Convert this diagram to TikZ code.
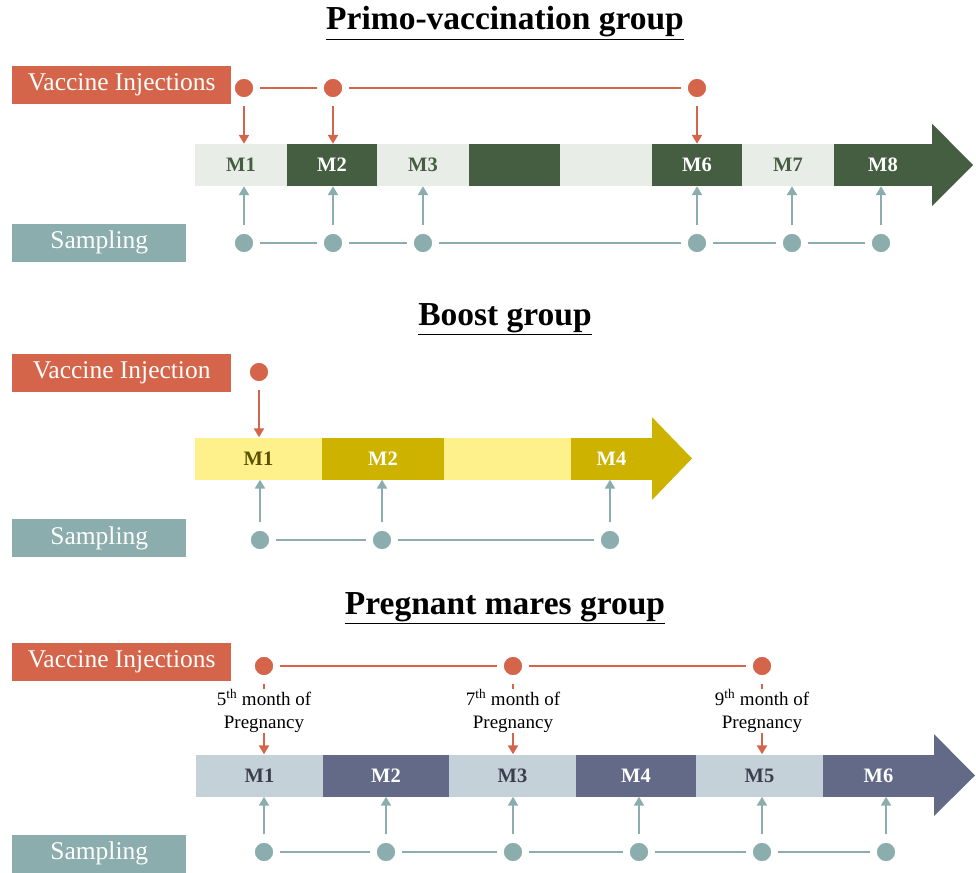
\documentclass[tikz,border=0pt]{standalone}
\usepackage{fontspec}
\setmainfont{Liberation Serif}
\usetikzlibrary{arrows.meta}
\definecolor{injred}{HTML}{D4654A}
\definecolor{sampteal}{HTML}{8BADAD}
\definecolor{primolight}{HTML}{E8EDE7}
\definecolor{primodark}{HTML}{455E41}
\definecolor{boostlight}{HTML}{FEF08A}
\definecolor{boostdark}{HTML}{CDB300}
\definecolor{boosttext}{HTML}{5A5100}
\definecolor{preglight}{HTML}{C5D1D8}
\definecolor{pregdark}{HTML}{636A87}
\definecolor{pregtext}{HTML}{3B3F4D}
\tikzset{
  grouptitle/.style={font=\fontsize{33.5}{36}\selectfont\bfseries},
  tag/.style={text=white, font=\fontsize{25.5}{28}\selectfont, minimum height=38pt, anchor=west},
  injtag/.style={tag, fill=injred, minimum width=219pt},
  samptag/.style={tag, fill=sampteal, minimum width=174pt},
  injdot/.style={circle, fill=injred, draw=white, line width=1.5pt, minimum size=20pt},
  sampdot/.style={circle, fill=sampteal, draw=white, line width=1.5pt, minimum size=20pt},
  injline/.style={injred, line width=2.8pt, shorten <=5pt, shorten >=5pt},
  sampline/.style={sampteal, line width=2.8pt, shorten <=5pt, shorten >=5pt},
  injarrow/.style={injred, line width=2.8pt, shorten <=7pt, -{Triangle[length=9pt,width=10pt]}},
  samparrow/.style={sampteal, line width=2.8pt, shorten <=7pt, -{Triangle[length=9pt,width=10pt]}},
  seg/.style={minimum height=42pt, font=\fontsize{20.5}{22}\selectfont\bfseries},
  monthnote/.style={fill=white, align=center, font=\fontsize{19}{23}\selectfont, inner sep=1pt}
}
\begin{document}
\begin{tikzpicture}[x=1pt, y=-1pt, every node/.style={inner sep=0pt}]
\useasboundingbox (0,0) rectangle (976,872);

% Primo-vaccination group
\node[grouptitle] (t1) at (505,23) {\underline{Primo-vaccination group}};
\node[injtag] (vi1) at (12,85) {Vaccine Injections};
\node[samptag] (sa1) at (12,242.5) {Sampling};
\foreach \l/\r/\c/\tc/\t/\n in {195/287/primolight/primodark/M1/p1, 287/377/primodark/white/M2/p2,
    377/469/primolight/primodark/M3/p3, 469/560/primodark/white//p4, 560/652/primolight/primodark//p5,
    652/742/primodark/white/M6/p6, 742/834/primolight/primodark/M7/p7, 834/932/primodark/white/M8/p8}
  {\pgfmathsetmacro\w{\r-\l}
   \node[seg, fill=\c, text=\tc, minimum width=\w pt] (\n) at ({(\l+\r)/2},165) {\t};}
\fill[primodark] (p8.north east) -- ++(0,-20) -- (973,165) -- (932,206) -- (p8.south east) -- cycle;
\foreach \x/\n in {244/pi1, 333/pi2, 697/pi3} \node[injdot] (\n) at (\x,88) {};
\draw[injline] (pi1) -- (pi2);
\draw[injline] (pi2) -- (pi3);
\draw[injarrow] (pi1) -- (pi1 |- p1.north);
\draw[injarrow] (pi2) -- (pi2 |- p2.north);
\draw[injarrow] (pi3) -- (pi3 |- p6.north);
\foreach \x/\n in {244/ps1, 333/ps2, 423/ps3, 697/ps6, 792/ps7, 881/ps8} \node[sampdot] (\n) at (\x,243) {};
\foreach \a/\b in {ps1/ps2, ps2/ps3, ps3/ps6, ps6/ps7, ps7/ps8} \draw[sampline] (\a) -- (\b);
\foreach \s/\m in {ps1/p1, ps2/p2, ps3/p3, ps6/p6, ps7/p7, ps8/p8} \draw[samparrow] (\s) -- (\s |- \m.south);

% Boost group
\node[grouptitle] (t2) at (505,319) {\underline{Boost group}};
\node[injtag] (vi2) at (12,373) {Vaccine Injection};
\node[samptag] (sa2) at (12,538) {Sampling};
\foreach \l/\r/\c/\tc/\t/\n in {195/322/boostlight/boosttext/M1/b1, 322/444/boostdark/white/M2/b2,
    444/571/boostlight/boosttext//b3, 571/652/boostdark/white/M4/b4}
  {\pgfmathsetmacro\w{\r-\l}
   \node[seg, fill=\c, text=\tc, minimum width=\w pt] (\n) at ({(\l+\r)/2},458.5) {\t};}
\fill[boostdark] (b4.north east) -- ++(0,-20) -- (692,458.5) -- (652,500) -- (b4.south east) -- cycle;
\node[injdot] (bi1) at (259,372) {};
\draw[injarrow] (bi1) -- (bi1 |- b1.north);
\foreach \x/\n in {260/bs1, 382/bs2, 610/bs4} \node[sampdot] (\n) at (\x,540) {};
\foreach \a/\b in {bs1/bs2, bs2/bs4} \draw[sampline] (\a) -- (\b);
\foreach \s/\m in {bs1/b1, bs2/b2, bs4/b4} \draw[samparrow] (\s) -- (\s |- \m.south);

% Pregnant mares group
\node[grouptitle] (t3) at (505,608) {\underline{Pregnant mares group}};
\node[injtag] (vi3) at (12,662) {Vaccine Injections};
\node[samptag] (sa3) at (12,853.5) {Sampling};
\foreach \l/\r/\c/\tc/\t/\n in {196/323/preglight/pregtext/M1/m1, 323/449/pregdark/white/M2/m2,
    449/576/preglight/pregtext/M3/m3, 576/696/pregdark/white/M4/m4,
    696/823/preglight/pregtext/M5/m5, 823/934/pregdark/white/M6/m6}
  {\pgfmathsetmacro\w{\r-\l}
   \node[seg, fill=\c, text=\tc, minimum width=\w pt] (\n) at ({(\l+\r)/2},775.5) {\t};}
\fill[pregdark] (m6.north east) -- ++(0,-20) -- (975,775.5) -- (934,816) -- (m6.south east) -- cycle;
\foreach \x/\n in {264/mi1, 513/mi3, 762/mi5} \node[injdot] (\n) at (\x,666) {};
\draw[injline] (mi1) -- (mi3);
\draw[injline] (mi3) -- (mi5);
\foreach \i/\m/\k in {mi1/m1/5, mi3/m3/7, mi5/m5/9}
  {\draw[injarrow] (\i) -- (\i |- \m.north);
   \node[monthnote] (n\k) at ([yshift=-45pt]\i) {\k\textsuperscript{th} month of\\Pregnancy};}
\foreach \x/\n in {264/ms1, 386/ms2, 513/ms3, 639/ms4, 762/ms5, 886/ms6} \node[sampdot] (\n) at (\x,852) {};
\foreach \a/\b in {ms1/ms2, ms2/ms3, ms3/ms4, ms4/ms5, ms5/ms6} \draw[sampline] (\a) -- (\b);
\foreach \s/\m in {ms1/m1, ms2/m2, ms3/m3, ms4/m4, ms5/m5, ms6/m6} \draw[samparrow] (\s) -- (\s |- \m.south);
\end{tikzpicture}
\end{document}
